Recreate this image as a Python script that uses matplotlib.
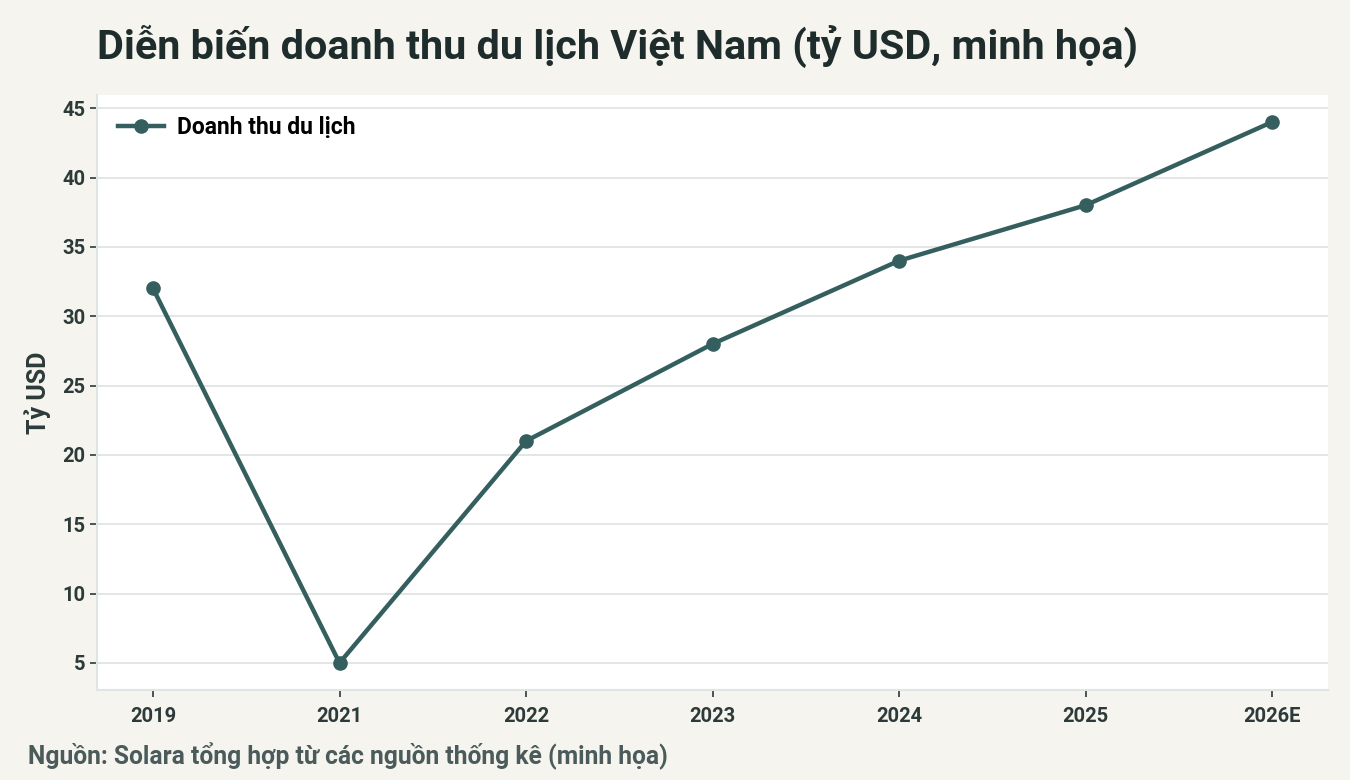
import matplotlib
matplotlib.use("Agg")
import matplotlib.pyplot as plt

years = ["2019", "2021", "2022", "2023", "2024", "2025", "2026E"]
revenue = [32, 5, 21, 28, 34, 38, 44]
yticks = [5, 10, 15, 20, 25, 30, 35, 40, 45]

title = "Diễn biến doanh thu du lịch Việt Nam (tỷ USD, minh họa)"
ylabel = "Tỷ USD"
series_name = "Doanh thu du lịch"
source = "Nguồn: Solara tổng hợp từ các nguồn thống kê (minh họa)"

plt.rcParams['font.family'] = ['Roboto', 'Noto Sans', 'DejaVu Sans']

bg = "#f5f4ef"
line_c = "#355f5f"
text_c = "#2c3a3a"
grid_c = "#dfe4e4"

fig = plt.figure(figsize=(13.5, 7.8), dpi=100, facecolor=bg)
ax = fig.add_axes([0.0719, 0.1154, 0.9118, 0.7628])
ax.set_facecolor("white")

x = list(range(len(years)))
ax.plot(x, revenue, color=line_c, lw=3.2, marker="o", markersize=9.5, label=series_name, zorder=3)

ax.set_xticks(x)
ax.set_xticklabels(years)
ax.set_yticks(yticks)
ax.grid(axis="y", color=grid_c, lw=1.3)
ax.set_axisbelow(True)
for s in ["top", "right"]:
    ax.spines[s].set_visible(False)
for s in ["left", "bottom"]:
    ax.spines[s].set_color(grid_c)
    ax.spines[s].set_linewidth(1.5)
ax.tick_params(axis="both", colors=text_c, labelsize=14.5, length=5, width=1.2)
for lab in ax.get_xticklabels() + ax.get_yticklabels():
    lab.set_fontweight("bold")
ax.tick_params(axis="x", pad=7)

ax.set_ylabel(ylabel, fontsize=18, fontweight="bold", color=text_c, labelpad=8)

leg = ax.legend(loc="upper left", frameon=False, prop={"weight": "bold", "size": 16.5},
                handlelength=2.0, handletextpad=0.6, bbox_to_anchor=(0.0, 1.0))

fig.text(0.072, 0.94, title, fontsize=29.8, fontweight="bold", color="#1f2c2c", ha="left", va="center")
fig.text(0.021, 0.031, source, fontsize=17.7, fontweight="bold", color="#4b5b5b", ha="left", va="center")

fig.savefig("out.png", dpi=100, facecolor=bg)
